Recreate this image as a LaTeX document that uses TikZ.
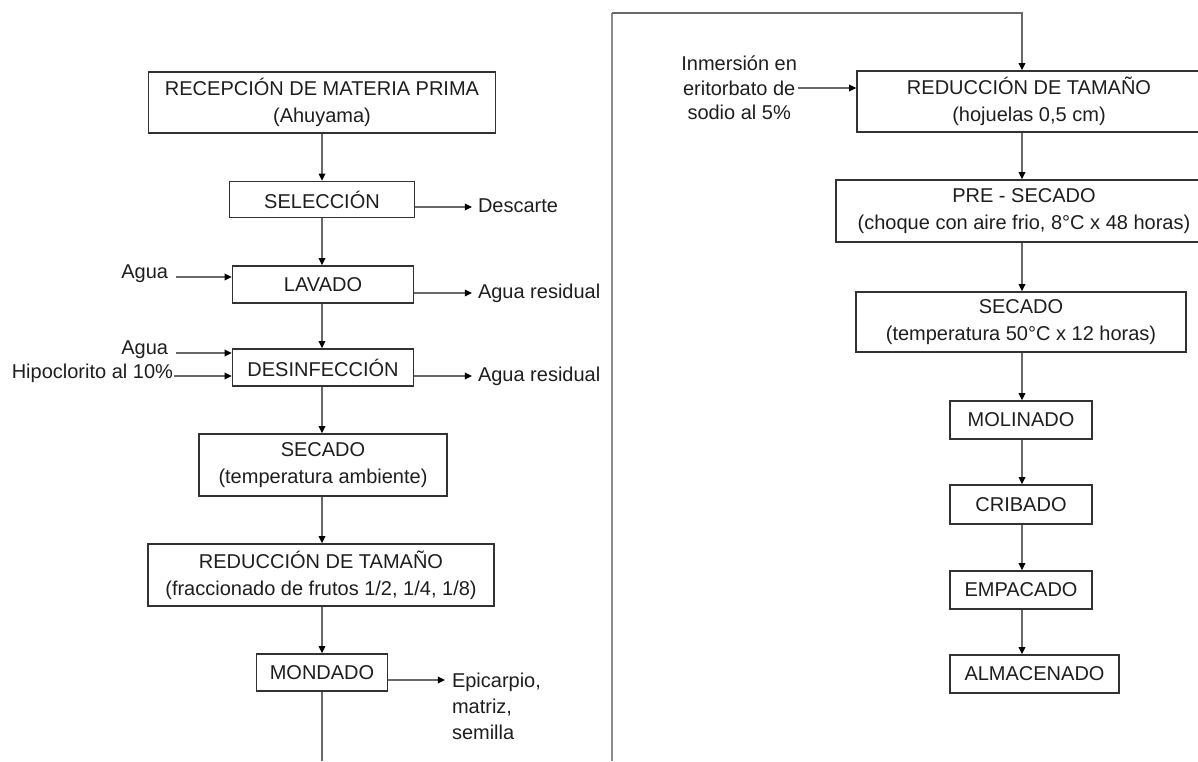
\documentclass[tikz,border=0pt]{standalone}
\usepackage{fontspec}
\setmainfont{Liberation Sans}
\usetikzlibrary{arrows.meta}
\definecolor{boxc}{RGB}{50,50,50}
\definecolor{linec}{RGB}{105,105,105}
\definecolor{bigc}{RGB}{140,140,140}
\definecolor{txtc}{RGB}{30,30,30}
\begin{document}
\begin{tikzpicture}[x=0.5pt,y=-0.5pt,
  font=\fontsize{10}{13.6}\selectfont,
  bx/.style 2 args={draw=boxc, line width=0.8pt, inner sep=0pt, align=center,
    text=txtc, minimum width=#1*0.5pt, minimum height=#2*0.5pt},
  lbl/.style={inner sep=0pt, outer sep=3pt, text=txtc},
  arr/.style={draw=linec, line width=0.55pt,
    -{Triangle[length=3.6pt,width=3.4pt,color=black]}},
  ln/.style={draw=linec, line width=0.55pt}]
\useasboundingbox (0,0) rectangle (1198,761);
\clip (0,0) rectangle (1198,761);

% ---------- left column ----------
\node[bx={347}{61}] (rec) at (322,102.5) {RECEPCIÓN DE MATERIA PRIMA\\(Ahuyama)};
\node[bx={185}{36}] (sel) at (322,199.5) {SELECCIÓN};
\node[bx={181}{37}] (lav) at (323,284.5) {LAVADO};
\node[bx={181}{37}] (des) at (323,367.5) {DESINFECCIÓN};
\node[bx={248}{62}] (sec) at (323,465) {SECADO\\(temperatura ambiente)};
\node[bx={346}{62}] (red) at (321,575) {REDUCCIÓN DE TAMAÑO\\(fraccionado de frutos 1/2, 1/4, 1/8)};
\node[bx={131}{37}] (mon) at (322,672.5) {MONDADO};

\coordinate (lx) at (322,0);
\coordinate (mb) at (322,761);
\draw[arr] (rec.south -| lx) -- (sel.north -| lx);
\draw[arr] (sel.south -| lx) -- (lav.north -| lx);
\draw[arr] (lav.south -| lx) -- (des.north -| lx);
\draw[arr] (des.south -| lx) -- (sec.north -| lx);
\draw[arr] (sec.south -| lx) -- (red.north -| lx);
\draw[arr] (red.south -| lx) -- (mon.north -| lx);
\draw[ln] (mon.south -| lx) -- (mb);

% outputs
\node[lbl, anchor=mid west] (desc) at (472,207) {Descarte};
\node[lbl, anchor=mid west] (res1) at (472,293) {Agua residual};
\node[lbl, anchor=mid west] (res2) at (472,376) {Agua residual};
\draw[arr] (sel.east |- desc.mid west) -- (desc.mid west);
\draw[arr] (lav.east |- res1.mid west) -- (res1.mid west);
\draw[arr] (des.east |- res2.mid west) -- (res2.mid west);

\node[lbl, anchor=north west, align=left, outer sep=0pt,
  font=\fontsize{10}{13}\selectfont] (epi) at (452,673) {Epicarpio,\\matriz,\\semilla};
\coordinate (epiA) at (445,680);
\draw[arr] (mon.east |- epiA) -- (epiA);

% inputs
\node[lbl, anchor=mid east, outer sep=4pt] (agua1) at (176,273) {Agua};
\node[lbl, anchor=mid east, outer sep=4pt] (agua2) at (176,349) {Agua};
\node[lbl, anchor=mid east, outer sep=0.5pt] (hipo) at (174,373) {Hipoclorito al 10\%};
\draw[arr] ([yshift=-2pt]agua1.mid east) -- ([yshift=-2pt]agua1.mid east -| lav.west);
\draw[arr] ([yshift=-2pt]agua2.mid east) -- ([yshift=-2pt]agua2.mid east -| des.west);
\draw[arr] ([yshift=-1.5pt]hipo.mid east) -- ([yshift=-1.5pt]hipo.mid east -| des.west);

% ---------- right column ----------
\node[bx={344}{61}] (rred) at (1029,101.5) {REDUCCIÓN DE TAMAÑO\\(hojuelas 0,5 cm)};
\node[bx={376}{62}] (pre) at (1024,211) {PRE - SECADO\\(choque con aire frio, 8°C x 48 horas)};
\node[bx={330}{60}] (rsec) at (1021,322) {SECADO\\(temperatura 50°C x 12 horas)};
\node[bx={142}{38}] (mol) at (1021,420) {MOLINADO};
\node[bx={142}{39}] (cri) at (1021,504.5) {CRIBADO};
\node[bx={142}{38}] (emp) at (1021,590) {EMPACADO};
\node[bx={169}{38}] (alm) at (1034.5,674) {ALMACENADO};

\coordinate (bl) at (612,761);
\coordinate (tl) at (612,13);
\coordinate (tr) at (1022,13);
\draw[ln, draw=bigc] (bl) -- (tl);
\draw[arr] (tl) -- (tr) -- (rred.north -| tr);
\draw[arr] (rred.south -| tr) -- (pre.north -| tr);
\draw[arr] (pre.south -| tr) -- (rsec.north -| tr);
\draw[arr] (rsec.south -| tr) -- (mol.north -| tr);
\draw[arr] (mol.south -| tr) -- (cri.north -| tr);
\draw[arr] (cri.south -| tr) -- (emp.north -| tr);
\draw[arr] (emp.south -| tr) -- (alm.north -| tr);

\node[lbl, anchor=east, align=center, outer sep=0.5pt,
  font=\fontsize{10}{12.3}\selectfont] (inm) at (798,88) {Inmersión en\\eritorbato de\\sodio al 5\%};
\draw[arr] (inm.east) -- (inm.east -| rred.west);
\end{tikzpicture}
\end{document}
